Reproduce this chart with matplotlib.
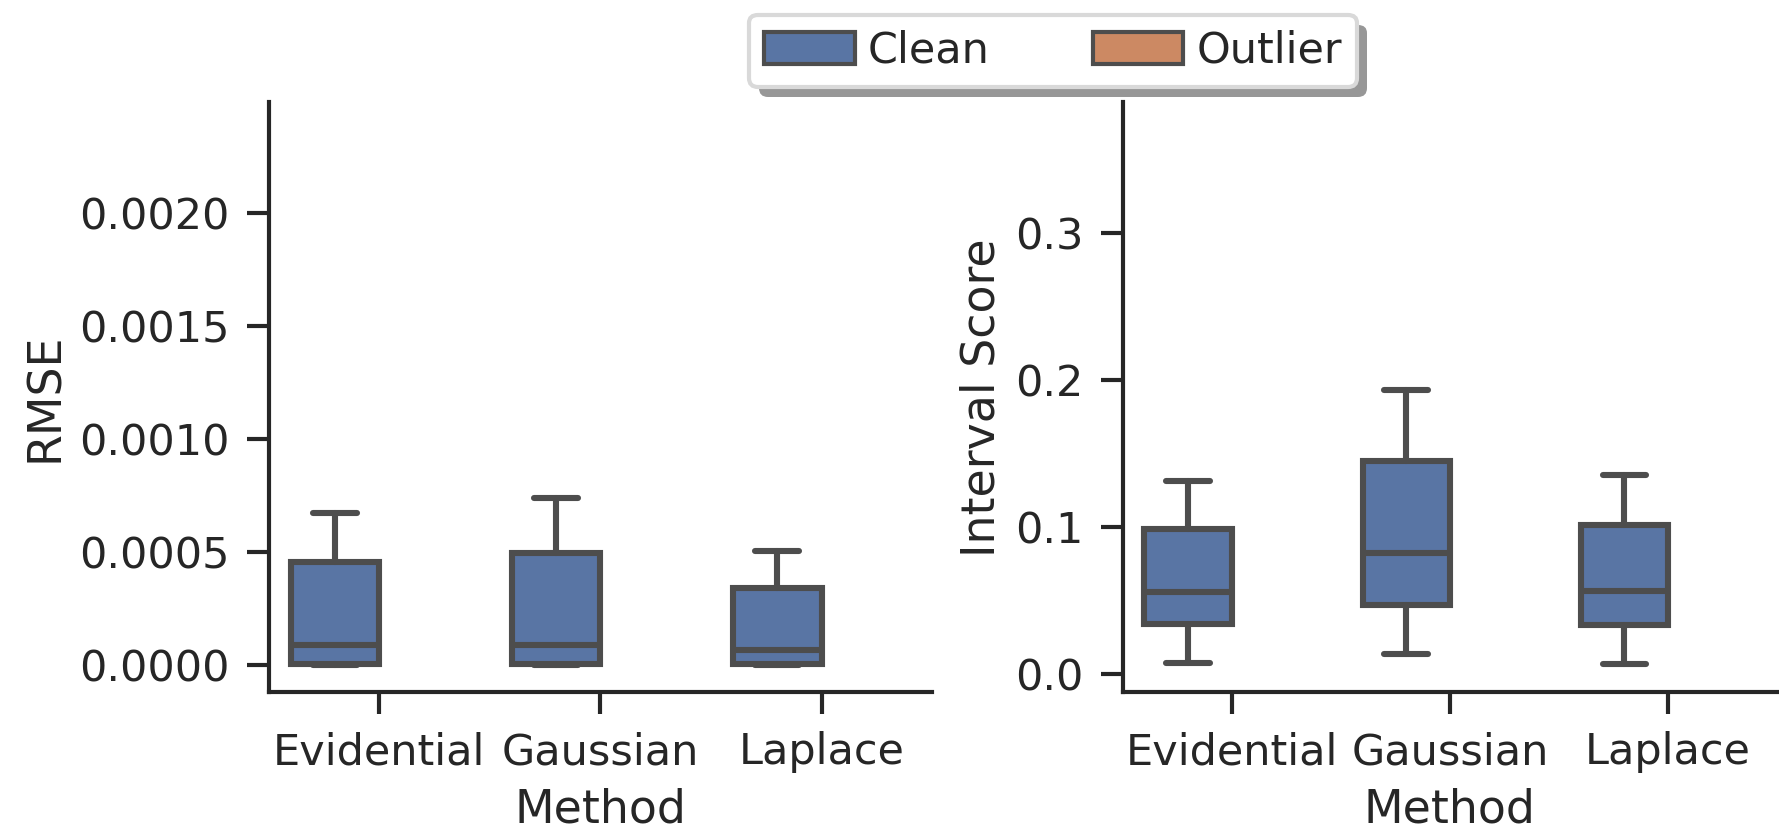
import matplotlib
matplotlib.use("Agg")
import matplotlib.pyplot as plt
import matplotlib.ticker as mticker
import matplotlib.patheffects as pe
from matplotlib.patches import Patch
import seaborn as sns

sns.set_theme(style="ticks")
plt.rcParams['font.family'] = ['DejaVu Sans']

methods = ["Evidential", "Gaussian", "Laplace"]
hue_levels = ["Clean", "Outlier"]

# RMSE (Clean) box statistics
rmse_whislo = [0.0, 0.0, 0.0]
rmse_q1 = [0.000005, 0.000005, 0.000005]
rmse_med = [0.00009, 0.00009, 0.000065]
rmse_q3 = [0.000457, 0.000497, 0.000342]
rmse_whishi = [0.000673, 0.000739, 0.000503]

# Interval score (Clean) box statistics
is_whislo = [0.0077, 0.0139, 0.0069]
is_q1 = [0.0339, 0.047, 0.0332]
is_med = [0.0555, 0.0825, 0.0563]
is_q3 = [0.0987, 0.145, 0.101]
is_whishi = [0.131, 0.193, 0.135]

rmse_ticks = [0.0, 0.0005, 0.0010, 0.0015, 0.0020]
is_ticks = [0.0, 0.1, 0.2, 0.3]

pal = sns.color_palette("deep")
clean_col = sns.desaturate(pal[0], 0.75)
outlier_col = sns.desaturate(pal[1], 0.75)
edge = "#4d4d4d"

W, H, DPI = 1779, 831, 200
fig = plt.figure(figsize=(W / DPI, H / DPI), dpi=DPI)
ax1 = fig.add_axes([0.151, 0.167, 0.373, 0.710])
ax2 = fig.add_axes([0.631, 0.167, 0.368, 0.710])

FS = 15.5
LW = 2.2


def draw(ax, whislo, q1, med, q3, whishi):
    stats = []
    for i in range(len(methods)):
        stats.append(dict(whislo=whislo[i], q1=q1[i], med=med[i], q3=q3[i],
                          whishi=whishi[i], fliers=[]))
    pos = [i - 0.2 for i in range(len(methods))]
    ax.bxp(stats, positions=pos, widths=0.4, capwidths=0.2, patch_artist=True,
           showfliers=False,
           boxprops=dict(facecolor=clean_col, edgecolor=edge, linewidth=LW),
           medianprops=dict(color=edge, linewidth=LW),
           whiskerprops=dict(color=edge, linewidth=LW),
           capprops=dict(color=edge, linewidth=LW, solid_capstyle='round'))
    ax.set_xlim(-0.5, 2.5)
    ax.set_xticks(range(len(methods)))
    ax.set_xticklabels(methods, fontsize=FS)
    ax.set_xlabel("Method", fontsize=FS + 1, labelpad=5)
    for s in ["top", "right"]:
        ax.spines[s].set_visible(False)
    for s in ["left", "bottom"]:
        ax.spines[s].set_linewidth(1.5)
        ax.spines[s].set_color("#262626")
    ax.tick_params(axis="both", length=8, width=1.5, color="#262626",
                   labelsize=FS, pad=6)


draw(ax1, rmse_whislo, rmse_q1, rmse_med, rmse_q3, rmse_whishi)
ax1.set_ylim(-0.00012, 0.00249)
ax1.set_yticks(rmse_ticks)
ax1.yaxis.set_major_formatter(mticker.FormatStrFormatter("%.4f"))
ax1.set_ylabel("RMSE", fontsize=FS + 1)

draw(ax2, is_whislo, is_q1, is_med, is_q3, is_whishi)
ax2.set_ylim(-0.0123, 0.3886)
ax2.set_yticks(is_ticks)
ax2.yaxis.set_major_formatter(mticker.FormatStrFormatter("%.1f"))
ax2.set_ylabel("Interval Score", fontsize=FS + 1)

handles = [Patch(facecolor=clean_col, edgecolor=edge, linewidth=1.5),
           Patch(facecolor=outlier_col, edgecolor=edge, linewidth=1.5)]
leg = fig.legend(handles, hue_levels, loc="upper center", bbox_to_anchor=(0.592, 1.008),
                 ncol=2, fontsize=FS, frameon=True, shadow=False, fancybox=True,
                 handlelength=2.1, handleheight=0.8, columnspacing=2.4,
                 handletextpad=0.3, borderpad=0.35)
frame = leg.get_frame()
frame.set_edgecolor("#d9d9d9")
frame.set_linewidth(1.5)
frame.set_alpha(1.0)
frame.set_path_effects([pe.SimplePatchShadow(offset=(3.5, -3.5), shadow_rgbFace="#8c8c8c",
                                             alpha=0.9), pe.Normal()])

fig.savefig("out.png", dpi=DPI)
